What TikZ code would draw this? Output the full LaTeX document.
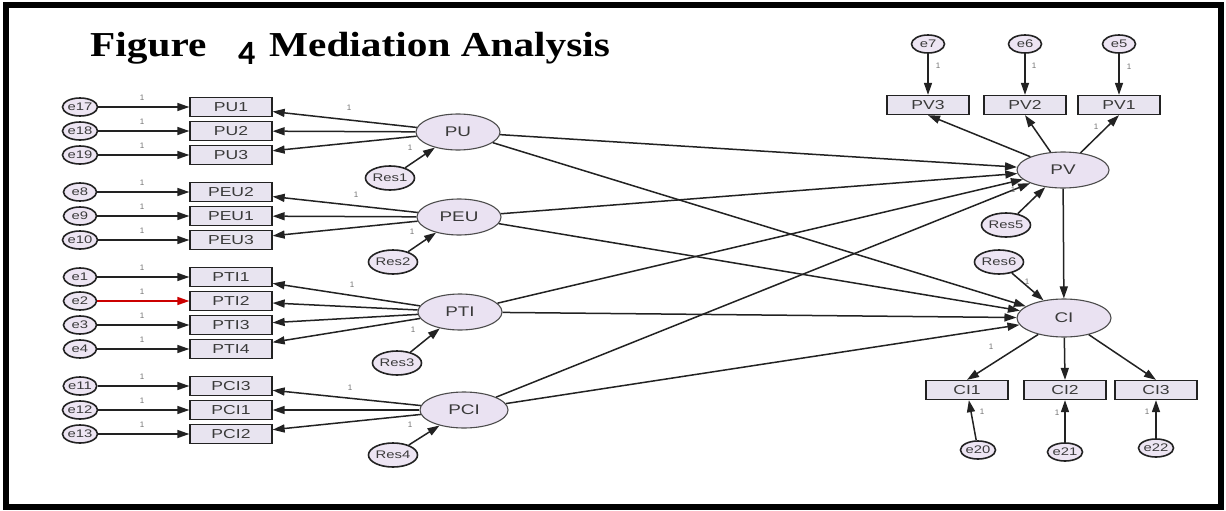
\documentclass[tikz,border=0pt]{standalone}
\usepackage{fontspec}
\usetikzlibrary{arrows.meta,shapes.geometric}
\setmainfont{Liberation Sans}
\newfontfamily\titleserif[FakeStretch=1.18]{Liberation Serif}
\newfontfamily\titlenum{Carlito}
\newfontfamily\labfont[FakeStretch=1.35]{Liberation Sans}
\definecolor{boxfill}{HTML}{E8E4F0}
\definecolor{latfill}{HTML}{EAE2F2}
\definecolor{errfill}{HTML}{EDE5F3}
\definecolor{txt}{HTML}{3A3A3A}
\definecolor{linec}{HTML}{222222}
\tikzset{
  obs/.style={draw=linec, fill=boxfill, minimum width=82pt, minimum height=19pt, inner sep=0pt, line width=1.3pt, text=txt, font=\labfont\fontsize{13}{13}\selectfont},
  err/.style={ellipse, draw=linec, fill=errfill, minimum width=33pt, minimum height=18pt, inner sep=0pt, line width=1.6pt, text=txt, font=\labfont\fontsize{11}{11}\selectfont},
  lat/.style={ellipse, draw=black!70, fill=latfill, minimum width=84pt, minimum height=36pt, inner sep=0pt, line width=1.1pt, text=txt, font=\labfont\fontsize{14}{14}\selectfont},
  res/.style={ellipse, draw=linec, fill=errfill, minimum width=44pt, minimum height=24pt, inner sep=0pt, line width=1.6pt, text=txt, font=\labfont\fontsize{11}{11}\selectfont},
  arr/.style={draw=linec, line width=1.5pt, -{Triangle[length=12pt,width=8pt]}},
  redarr/.style={draw=red!80!black, line width=1.5pt, -{Triangle[length=12pt,width=8pt]}},
  one/.style={font=\fontsize{8}{8}\selectfont, text=black!55, inner sep=0pt},
}
\begin{document}
\begin{tikzpicture}[x=1pt,y=-1pt]
\useasboundingbox (0,0) rectangle (1226,511);
\fill[white] (0,0) rectangle (1226,511);
\draw[line width=6pt] (6,5.5) rectangle (1221,507);
% title
\node[anchor=base west, inner sep=0pt] (t1) at (90,57) {\titleserif\bfseries\fontsize{35}{35}\selectfont Figure};
\node[anchor=base west, inner sep=0pt] (t2) at (238,64) {\titlenum\bfseries\fontsize{34}{34}\selectfont 4};
\node[anchor=base west, inner sep=0pt] (t3) at (269,57) {\titleserif\bfseries\fontsize{35}{35}\selectfont Mediation Analysis};
% latent variables left
\node[lat] (PU) at (458,132) {PU};
\node[lat] (PEU) at (459,217) {PEU};
\node[lat] (PTI) at (460,312) {PTI};
\node[lat, minimum width=88pt] (PCI) at (464,410) {PCI};
\node[res] (Res1) at (390,178) {Res1};
\node[res] (Res2) at (393,262) {Res2};
\node[res] (Res3) at (397,363) {Res3};
\node[res] (Res4) at (393,455) {Res4};
% observed left
\foreach \n/\e/\y in {PU1/e17/107, PU2/e18/131, PU3/e19/155,
                       PEU2/e8/192, PEU1/e9/216, PEU3/e10/240,
                       PTI1/e1/277, PTI2/e2/301, PTI3/e3/325, PTI4/e4/349,
                       PCI3/e11/386, PCI1/e12/410, PCI2/e13/434}{
  \node[obs] (\n) at (231,\y) {\n};
  \node[err] (\e) at (80,\y) {\e};
  \node[one] (one\e) at (142,\y-9) {1};
}
\foreach \e/\n in {e17/PU1, e18/PU2, e19/PU3, e8/PEU2, e9/PEU1, e10/PEU3,
                   e1/PTI1, e3/PTI3, e4/PTI4, e11/PCI3, e12/PCI1, e13/PCI2}{
  \draw[arr] (\e) -- (\n);
}
\draw[redarr] (e2) -- (PTI2);
\foreach \l/\n in {PU/PU1, PU/PU2, PU/PU3, PEU/PEU2, PEU/PEU1, PEU/PEU3,
                   PTI/PTI1, PTI/PTI2, PTI/PTI3, PTI/PTI4, PCI/PCI3, PCI/PCI1, PCI/PCI2}{
  \draw[arr] (\l) -- (\n);
}
\draw[arr] (Res1) -- (PU);
\draw[arr] (Res2) -- (PEU);
\draw[arr] (Res3) -- (PTI);
\draw[arr] (Res4) -- (PCI);
\node[one] (oPU1) at (349,108) {1};
\node[one] (oPEU2) at (356,195) {1};
\node[one] (oPTI1) at (352,285) {1};
\node[one] (oPCI3) at (350,388) {1};
\node[one] (oR1) at (410,148) {1};
\node[one] (oR2) at (412,232) {1};
\node[one] (oR3) at (413,330) {1};
\node[one] (oR4) at (410,425) {1};
% right side
\node[lat, minimum width=92pt] (PV) at (1063,170) {PV};
\node[lat, minimum width=94pt, minimum height=38pt] (CI) at (1064,318) {CI};
\node[res] (Res5) at (1006,225) {Res5};
\node[res] (Res6) at (999,262) {Res6};
\node[obs] (PV3) at (928,105) {PV3};
\node[obs] (PV2) at (1025,105) {PV2};
\node[obs] (PV1) at (1119,105) {PV1};
\node[err] (e7) at (928,44) {e7};
\node[err] (e6) at (1025,44) {e6};
\node[err] (e5) at (1119,44) {e5};
\node[obs] (CI1) at (967,390) {CI1};
\node[obs] (CI2) at (1065,390) {CI2};
\node[obs] (CI3) at (1156,390) {CI3};
\node[err] (e20) at (978,450) {e20};
\node[err] (e21) at (1065,452) {e21};
\node[err] (e22) at (1156,448) {e22};
\draw[arr] (e7) -- (PV3);
\draw[arr] (e6) -- (PV2);
\draw[arr] (e5) -- (PV1);
\draw[arr] (PV) -- (PV3.south);
\draw[arr] (PV) -- (PV2.south);
\draw[arr] (PV) -- (PV1.south);
\draw[arr] (e20) -- (CI1);
\draw[arr] (e21) -- (CI2);
\draw[arr] (e22) -- (CI3);
\draw[arr] (CI) -- (CI1.north);
\draw[arr] (CI) -- (CI2.north);
\draw[arr] (CI) -- (CI3.north);
\draw[arr] (Res5) -- (PV);
\draw[arr] (Res6) -- (CI);
\draw[arr] (PV) -- (CI);
\foreach \l in {PU, PEU, PTI, PCI}{
  \draw[arr] (\l) -- (PV);
  \draw[arr] (\l) -- (CI);
}
\node[one] (o7) at (938,66) {1};
\node[one] (o6) at (1034,66) {1};
\node[one] (o5) at (1129,67) {1};
\node[one] (oPV1) at (1096,127) {1};
\node[one] (oR5) at (1013,190) {1};
\node[one] (oR6) at (1027,282) {1};
\node[one] (oCI1) at (991,347) {1};
\node[one] (o20) at (982,412) {1};
\node[one] (o21) at (1057,413) {1};
\node[one] (o22) at (1147,412) {1};
\end{tikzpicture}
\end{document}
